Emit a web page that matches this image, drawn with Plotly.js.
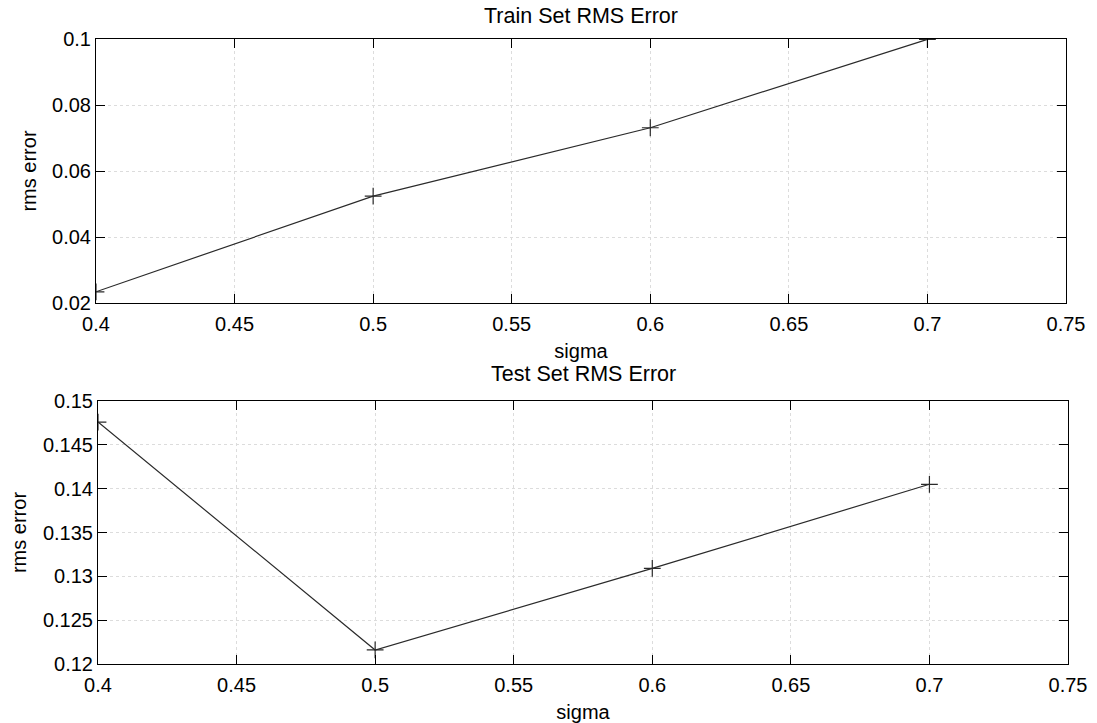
<!DOCTYPE html>
<html>
<head>
<meta charset="utf-8">
<script src="https://cdn.plot.ly/plotly-3.0.1.min.js"></script>
<style>html,body{margin:0;padding:0;background:#fff;}#chart{width:1097px;height:723px;}</style>
</head>
<body>
<div id="chart"></div>
<script>
// Data
const sigma = [0.4, 0.5, 0.6, 0.7];
const trainRms = [0.0234, 0.0524, 0.0731, 0.0999];
const testRms = [0.1476, 0.1216, 0.1309, 0.1405];

const xTickVals = [0.4, 0.45, 0.5, 0.55, 0.6, 0.65, 0.7, 0.75];
const xTickText = ['0.4', '0.45', '0.5', '0.55', '0.6', '0.65', '0.7', '0.75'];
const trainTickVals = [0.02, 0.04, 0.06, 0.08, 0.1];
const trainTickText = ['0.02', '0.04', '0.06', '0.08', '0.1'];
const testTickVals = [0.12, 0.125, 0.13, 0.135, 0.14, 0.145, 0.15];
const testTickText = ['0.12', '0.125', '0.13', '0.135', '0.14', '0.145', '0.15'];

const titles = ['Train Set RMS Error', 'Test Set RMS Error'];
const xLabel = 'sigma';
const yLabel = 'rms error';

const W = 1097, H = 723;
const FONT = 'Liberation Sans, Arial, Helvetica, sans-serif';

const lineStyle = {color: '#2a2a2a', width: 1.2};
const markerStyle = {symbol: 'cross-thin', size: 12, line: {color: '#2a2a2a', width: 1.2}};

const traces = [
  {x: sigma, y: trainRms, xaxis: 'x', yaxis: 'y', mode: 'lines+markers', line: lineStyle, marker: markerStyle, showlegend: false},
  {x: sigma, y: testRms, xaxis: 'x2', yaxis: 'y2', mode: 'lines+markers', line: lineStyle, marker: markerStyle, showlegend: false}
];

function xAxis(domain, anchor) {
  return {
    domain: domain, anchor: anchor, range: [0.4, 0.75],
    tickmode: 'array', tickvals: xTickVals, ticktext: xTickText,
    ticks: 'inside', ticklen: 9, tickwidth: 1, tickcolor: '#000',
    showline: true, linecolor: '#000', linewidth: 1, mirror: 'ticks',
    showgrid: true, gridcolor: '#dcdcdc', griddash: 'dot', gridwidth: 1,
    zeroline: false, ticklabelstandoff: 3,
    tickfont: {family: FONT, size: 20, color: '#000'},
    title: {text: xLabel, font: {family: FONT, size: 20, color: '#000'}, standoff: 9}
  };
}
function yAxis(domain, anchor, range, tv, tt) {
  return {
    domain: domain, anchor: anchor, range: range,
    tickmode: 'array', tickvals: tv, ticktext: tt,
    ticks: 'inside', ticklen: 9, tickwidth: 1, tickcolor: '#000',
    showline: true, linecolor: '#000', linewidth: 1, mirror: 'ticks',
    showgrid: true, gridcolor: '#dcdcdc', griddash: 'dot', gridwidth: 1,
    zeroline: false,
    tickfont: {family: FONT, size: 20, color: '#000'},
    title: {text: yLabel, font: {family: FONT, size: 20, color: '#000'}, standoff: 10}
  };
}

const layout = {
  width: W, height: H,
  margin: {l: 0, r: 0, t: 0, b: 0},
  paper_bgcolor: '#fff', plot_bgcolor: '#fff',
  font: {family: FONT, color: '#000'},
  xaxis: xAxis([96 / W, 1066 / W], 'y'),
  yaxis: yAxis([(H - 303) / H, (H - 39) / H], 'x', [0.02, 0.1], trainTickVals, trainTickText),
  xaxis2: xAxis([98 / W, 1068 / W], 'y2'),
  yaxis2: yAxis([(H - 664) / H, (H - 401) / H], 'x2', [0.12, 0.15], testTickVals, testTickText),
  annotations: [
    {text: titles[0], xref: 'x domain', yref: 'y domain', x: 0.5, y: 1, yanchor: 'bottom', yshift: 9, showarrow: false, font: {family: FONT, size: 21.5, color: '#000'}},
    {text: titles[1], xref: 'x2 domain', yref: 'y2 domain', x: 0.5, y: 1, yanchor: 'bottom', yshift: 13, showarrow: false, font: {family: FONT, size: 21.5, color: '#000'}}
  ]
};

Plotly.newPlot('chart', traces, layout, {staticPlot: true, displayModeBar: false});
</script>
</body>
</html>
